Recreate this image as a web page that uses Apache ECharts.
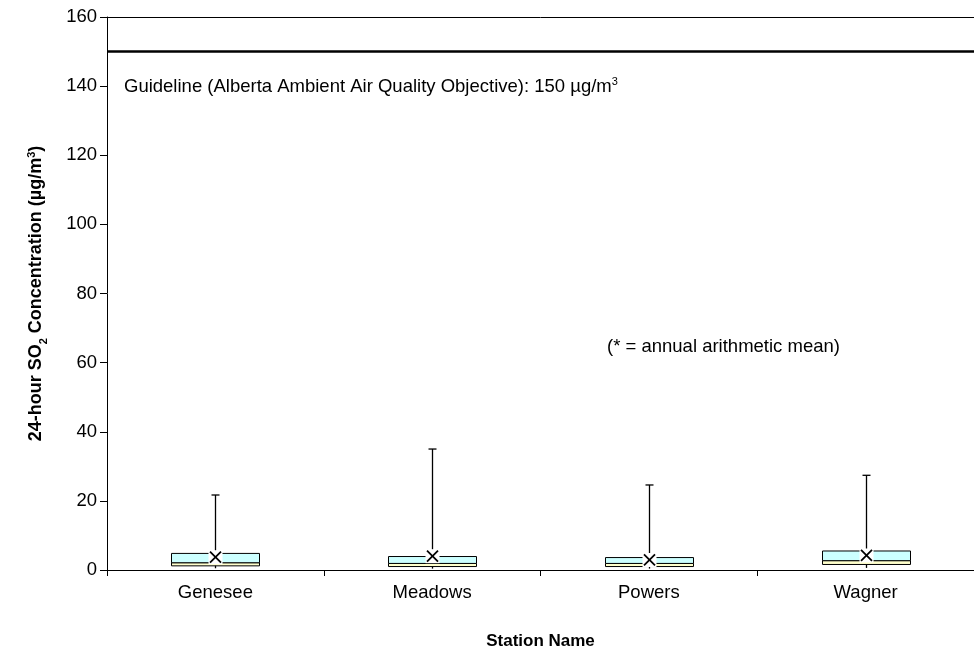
<!DOCTYPE html>
<html>
<head>
<meta charset="utf-8">
<script src="https://cdn.jsdelivr.net/npm/echarts@6/dist/echarts.min.js"></script>
<style>
  html, body { margin: 0; padding: 0; background: #fff; overflow: hidden; }
  #chart { width: 974px; height: 655px; }
</style>
</head>
<body>
<div id="chart"></div>
<script>
// Station summary statistics for 24-hour SO2 (µg/m³)
const stations   = ['Genesee', 'Meadows', 'Powers', 'Wagner'];
const minVals    = [0.5, 0.4, 0.4, 0.6];
const q1Vals     = [1.2, 1.0, 1.0, 1.6];
const medianVals = [2.1, 1.9, 1.9, 2.7];
const q3Vals     = [4.8, 3.9, 3.6, 5.5];
const maxVals    = [21.7, 35.0, 24.6, 27.4];
const meanVals   = [3.7, 4.0, 2.9, 4.2];
const guidelineValue = 150;
const yMin = 0, yMax = 160, yStep = 20;

const FONT = 'Liberation Sans, Arial, sans-serif';
const TEXT_SIZE = 18.5;

const boxData = stations.map((s, i) => [i, minVals[i], q1Vals[i], medianVals[i], q3Vals[i], maxVals[i], meanVals[i]]);

function renderBox(params, api) {
  const i = api.value(0);
  const pMin = api.coord([i, api.value(1)]);
  const pQ1 = api.coord([i, api.value(2)]);
  const pMed = api.coord([i, api.value(3)]);
  const pQ3 = api.coord([i, api.value(4)]);
  const pMax = api.coord([i, api.value(5)]);
  const pMean = api.coord([i, api.value(6)]);
  const band = api.size([1, 0])[0];
  const w = Math.round(band * 0.405);
  const x0 = Math.round(pMed[0] - w / 2) + 0.5;
  const cx = Math.round(pMed[0]) + 0.5;
  const children = [
    // whisker min..max
    { type: 'line', shape: { x1: cx, y1: pMin[1], x2: cx, y2: pMax[1] },
      style: { stroke: '#000', lineWidth: 1.3 } },
    // cap on the maximum
    { type: 'line', shape: { x1: cx - 4, y1: pMax[1], x2: cx + 4, y2: pMax[1] },
      style: { stroke: '#000', lineWidth: 1.3 } },
    // lower half of the box (Q1..median)
    { type: 'rect', shape: { x: x0, y: pMed[1], width: w, height: pQ1[1] - pMed[1] },
      style: { fill: '#FFFFCC', stroke: '#000', lineWidth: 1 } },
    // upper half of the box (median..Q3)
    { type: 'rect', shape: { x: x0, y: pQ3[1], width: w, height: pMed[1] - pQ3[1] },
      style: { fill: '#CCFFFF', stroke: '#000', lineWidth: 1 } },
    // mean marker
    { type: 'rect', shape: { x: cx - 7, y: pMean[1] - 7, width: 14, height: 14 },
      style: { fill: '#fff' } },
    { type: 'line', shape: { x1: cx - 5.5, y1: pMean[1] - 5.5, x2: cx + 5.5, y2: pMean[1] + 5.5 },
      style: { stroke: '#000', lineWidth: 1.8 } },
    { type: 'line', shape: { x1: cx - 5.5, y1: pMean[1] + 5.5, x2: cx + 5.5, y2: pMean[1] - 5.5 },
      style: { stroke: '#000', lineWidth: 1.8 } }
  ];
  return { type: 'group', children };
}

const chart = echarts.init(document.getElementById('chart'), null, { renderer: 'canvas' });

chart.setOption({
  animation: false,
  backgroundColor: '#fff',
  textStyle: { fontFamily: FONT },
  grid: { left: 107, top: 17, width: 880, height: 553, show: false },
  xAxis: {
    type: 'category', data: stations, boundaryGap: true,
    axisLine: { lineStyle: { color: '#000', width: 1 } },
    axisTick: { show: true, inside: false, length: 6, lineStyle: { color: '#000' } },
    axisLabel: { show: true, margin: 13, fontFamily: FONT, fontSize: TEXT_SIZE, color: '#000' },
    splitLine: { show: false },
    name: 'Station Name', nameLocation: 'middle', nameGap: 63,
    nameTextStyle: { fontFamily: FONT, fontSize: 17, fontWeight: 'bold', color: '#000', verticalAlign: 'top' }
  },
  yAxis: {
    type: 'value', min: yMin, max: yMax, interval: yStep,
    axisLine: { show: true, lineStyle: { color: '#000', width: 1 } },
    axisTick: { show: true, length: 7, lineStyle: { color: '#000' } },
    axisLabel: { fontFamily: FONT, fontSize: TEXT_SIZE, color: '#000', margin: 10 },
    splitLine: { show: false },
    name: '{b|24-hour SO}{sub|2}{b| Concentration (µg/m}{sup|3}{b|)}',
    nameLocation: 'middle', nameRotate: 90, nameGap: 62,
    nameTextStyle: {
      color: '#000',
      rich: {
        b: { fontFamily: FONT, fontSize: 18, fontWeight: 'bold', color: '#000', verticalAlign: 'bottom', lineHeight: 22 },
        sub: { fontFamily: FONT, fontSize: 11, fontWeight: 'bold', color: '#000', verticalAlign: 'bottom', lineHeight: 22, padding: [0, 0, -4, 0] },
        sup: { fontFamily: FONT, fontSize: 11, fontWeight: 'bold', color: '#000', verticalAlign: 'bottom', lineHeight: 22, padding: [0, 0, 8, 0] }
      }
    }
  },
  graphic: [
    {
      type: 'text', left: 124, top: 76,
      style: {
        text: '{t|Guideline (Alberta Ambient Air Quality Objective): ' + guidelineValue + ' µg/m}{s|3}',
        rich: {
          t: { fontFamily: FONT, fontSize: TEXT_SIZE, fill: '#000', verticalAlign: 'bottom', lineHeight: 22 },
          s: { fontFamily: FONT, fontSize: 11, fill: '#000', verticalAlign: 'bottom', lineHeight: 22, padding: [0, 0, 9, 0] }
        }
      }
    },
    {
      type: 'text', left: 607, top: 337,
      style: { text: '(* = annual arithmetic mean)', fontFamily: FONT, fontSize: TEXT_SIZE, fill: '#000' }
    }
  ],
  series: [
    {
      type: 'custom',
      renderItem: renderBox,
      encode: { x: 0, y: [1, 2, 3, 4, 5, 6] },
      data: boxData,
      z: 3,
      markLine: {
        silent: true, symbol: 'none', animation: false,
        label: { show: false },
        lineStyle: { color: '#000', width: 2.5, type: 'solid' },
        data: [{ yAxis: guidelineValue }]
      }
    },
    {
      // top border of the plot area
      type: 'line', data: [],
      markLine: {
        silent: true, symbol: 'none', animation: false,
        label: { show: false },
        lineStyle: { color: '#000', width: 1, type: 'solid' },
        data: [{ yAxis: yMax }]
      }
    }
  ]
});
</script>
</body>
</html>
